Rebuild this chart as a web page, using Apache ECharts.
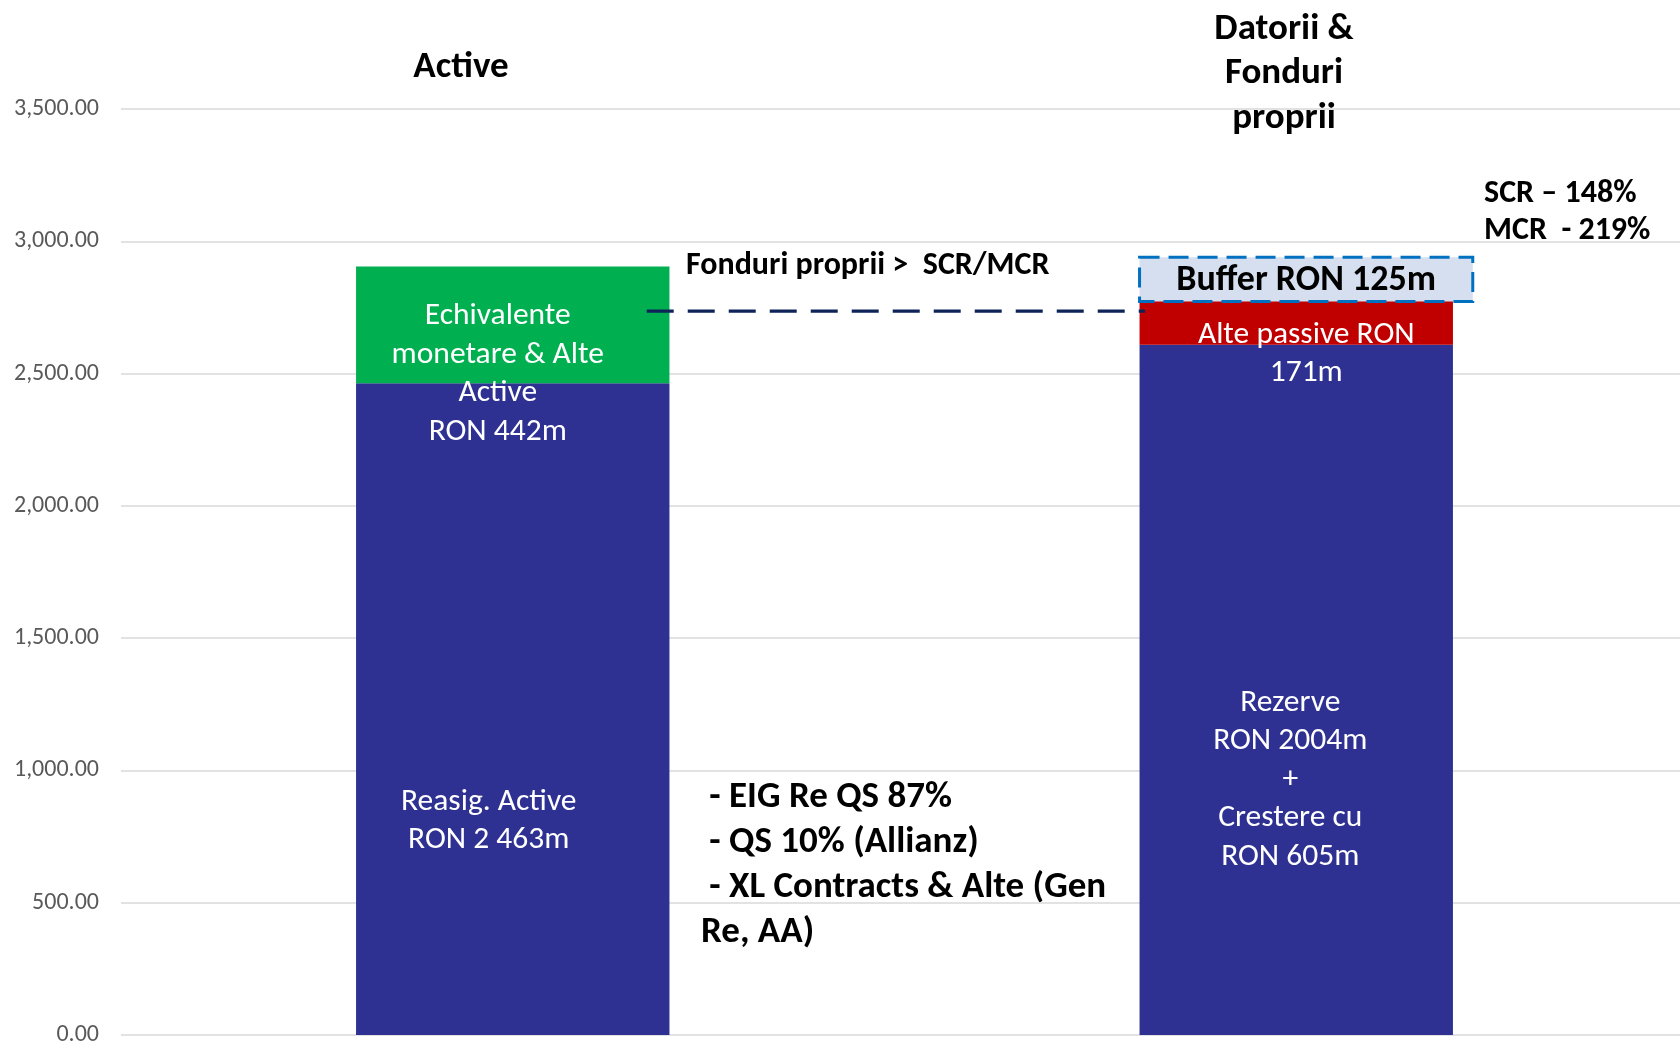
<!DOCTYPE html>
<html>
<head>
<meta charset="utf-8">
<script src="https://cdn.jsdelivr.net/npm/echarts@6/dist/echarts.min.js"></script>
<style>
html,body{margin:0;padding:0;background:#fff;}
#chart{width:1680px;height:1044px;}
</style>
</head>
<body>
<div id="chart"></div>
<script>
// ---- data ----
const categories = ['Active', 'Datorii & Fonduri proprii'];
const baseValues = [2463, 2609];      // Reasig. Active | Rezerve (2004 + 605)
const greenValues = [442, null];      // Echivalente monetare & Alte Active
const redValues = [null, 171];        // Alte passive
const bufferBox = [[1, 2772, 2940]];  // category, from, to (Buffer RON 125m)
const ownFundsLine = [[0, 1, 2736]];  // dashed line level (Fonduri proprii > SCR/MCR)
const yTicks = { min: 0, max: 3500, interval: 500 };
const baseLabels = ['Reasig. Active\nRON 2 463m', 'Rezerve\nRON 2004m\n+\nCrestere cu\nRON 605m'];
const greenLabels = ['Echivalente\nmonetare & Alte\nActive\nRON 442m', ''];
const redLabels = ['', 'Alte passive RON\n171m'];
const bufferText = 'Buffer RON 125m';
const lineText = 'Fonduri proprii >  SCR/MCR';
const ratioText = 'SCR \u2013 148%\nMCR  - 219%';
const bulletText = ' - EIG Re QS 87%\n - QS 10% (Allianz)\n - XL Contracts & Alte (Gen\nRe, AA)';
const titleLeft = 'Active';
const titleRight = 'Datorii &\nFonduri\nproprii';

const FONT = 'Carlito, Calibri, Lato, sans-serif';
const chart = echarts.init(document.getElementById('chart'));

const labelBase = { show: true, color: '#fff', fontFamily: FONT, fontSize: 31.5, lineHeight: 38.5, align: 'center', verticalAlign: 'middle', position: 'inside' };
const baseOffsets = [[-24, 112], [-6, 90]];
const greenOffsets = [[-15, 49], [0, 0]];
const redOffsets = [[0, 0], [10, 32]];

function items(vals, labels, offsets) {
  return vals.map((v, i) => ({
    value: v,
    label: Object.assign({}, labelBase, { formatter: labels[i], offset: offsets[i] })
  }));
}

chart.setOption({
  animation: false,
  grid: { left: 121, right: -8, top: 109, bottom: 9, containLabel: false, outerBoundsMode: 'none' },
  xAxis: {
    type: 'category', data: categories,
    axisLine: { show: false }, axisTick: { show: false }, axisLabel: { show: false }
  },
  yAxis: {
    type: 'value', min: yTicks.min, max: yTicks.max, interval: yTicks.interval,
    axisLine: { show: false }, axisTick: { show: false },
    splitLine: { lineStyle: { color: '#D9D9D9', width: 1.5 } },
    axisLabel: {
      color: '#595959', fontSize: 24, fontFamily: FONT, margin: 22,
      formatter: v => v.toLocaleString('en-US', { minimumFractionDigits: 2, maximumFractionDigits: 2 })
    }
  },
  series: [
    { type: 'bar', stack: 'a', barWidth: '40%', itemStyle: { color: '#2E3192' }, data: items(baseValues, baseLabels, baseOffsets), z: 2 },
    { type: 'bar', stack: 'a', itemStyle: { color: '#00B050' }, data: items(greenValues, greenLabels, greenOffsets), z: 2 },
    { type: 'bar', stack: 'a', itemStyle: { color: '#C00000' }, data: items(redValues, redLabels, redOffsets), z: 2 },
    {
      type: 'custom', data: ownFundsLine, z: 3,
      renderItem: (params, api) => {
        const band = api.size([1, 0])[0];
        const p0 = api.coord([api.value(0), api.value(2)]);
        const p1 = api.coord([api.value(1), api.value(2)]);
        return {
          type: 'line',
          shape: { x1: p0[0] + band * 0.171, y1: p0[1], x2: p1[0] - band * 0.193, y2: p1[1] },
          style: { stroke: '#0E2458', lineWidth: 3.2, lineDash: [27, 14] }
        };
      }
    },
    {
      type: 'custom', data: bufferBox, z: 4,
      renderItem: (params, api) => {
        const band = api.size([1, 0])[0];
        const p0 = api.coord([api.value(0), api.value(1)]);
        const p1 = api.coord([api.value(0), api.value(2)]);
        const x0 = p0[0] - band * 0.2, x1 = p0[0] + band * 0.2253;
        return {
          type: 'group',
          children: [
            { type: 'rect', shape: { x: x0, y: p1[1], width: x1 - x0, height: p0[1] - p1[1] },
              style: { fill: '#D5DFEF', stroke: '#0070C0', lineWidth: 3, lineDash: [20, 9] } },
            { type: 'text', style: { text: bufferText, x: (x0 + x1) / 2, y: (p0[1] + p1[1]) / 2 + 2,
              align: 'center', verticalAlign: 'middle', fill: '#000', font: 'bold 36px ' + FONT } }
          ]
        };
      }
    }
  ],
  graphic: [
    { type: 'text', style: { text: titleLeft, x: 461, y: 68, align: 'center', verticalAlign: 'middle', fill: '#000', font: 'bold 37px ' + FONT } },
    { type: 'text', style: { text: titleRight, x: 1284, y: 74, align: 'center', verticalAlign: 'middle', fill: '#000', font: 'bold 37px ' + FONT, lineHeight: 44.5 } },
    { type: 'text', style: { text: ratioText, x: 1484, y: 212, align: 'left', verticalAlign: 'middle', fill: '#000', font: 'bold 32px ' + FONT, lineHeight: 37 } },
    { type: 'text', style: { text: lineText, x: 686, y: 266, align: 'left', verticalAlign: 'middle', fill: '#000', font: 'bold 32px ' + FONT } },
    { type: 'text', style: { text: bulletText, x: 701, y: 865, align: 'left', verticalAlign: 'middle', fill: '#000', font: 'bold 37px ' + FONT, lineHeight: 45 } }
  ]
});
</script>
</body>
</html>
